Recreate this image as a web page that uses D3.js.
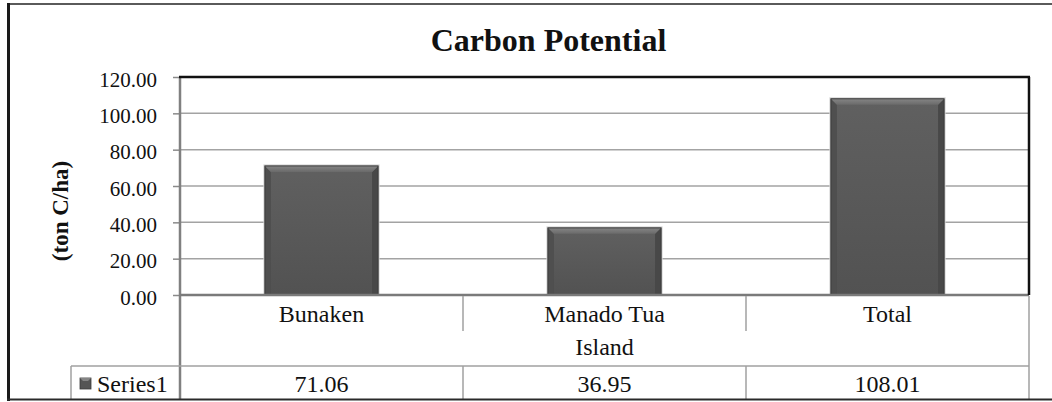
<!DOCTYPE html>
<html>
<head>
<meta charset="utf-8">
<script src="https://cdn.jsdelivr.net/npm/d3@7"></script>
<style>
  html, body { margin: 0; padding: 0; background: #fff; }
  svg { display: block; }
  text { font-family: "Liberation Serif", "Times New Roman", serif; fill: #111; }
</style>
</head>
<body>
<svg id="chart" width="1052" height="402"></svg>
<script>
// ---- data ----
const chartTitle = "Carbon Potential";
const yAxisTitle = "(ton C/ha)";
const xAxisTitle = "Island";
const seriesName = "Series1";
const categories = ["Bunaken", "Manado Tua", "Total"];
const values = [71.06, 36.95, 108.01];
const yTicks = [0, 20, 40, 60, 80, 100, 120];
const valueLabels = ["71.06", "36.95", "108.01"];

// ---- layout ----
const W = 1052, H = 402;
const plot = { left: 180, right: 1029, top: 77, bottom: 295 };
const catRowBottom = 331, titleRowBottom = 366, tableBottom = 400, legendLeft = 71;

const svg = d3.select("#chart");

const defs = svg.append("defs");
const g1 = defs.append("linearGradient").attr("id", "barBody").attr("x1", 0).attr("y1", 0).attr("x2", 0).attr("y2", 1);
g1.append("stop").attr("offset", "0%").attr("stop-color", "#606060");
g1.append("stop").attr("offset", "100%").attr("stop-color", "#525252");
const g2 = defs.append("linearGradient").attr("id", "barTop").attr("x1", 0).attr("y1", 0).attr("x2", 0).attr("y2", 1);
g2.append("stop").attr("offset", "0%").attr("stop-color", "#858585");
g2.append("stop").attr("offset", "100%").attr("stop-color", "#6a6a6a");

const x = d3.scaleBand().domain(categories).range([plot.left, plot.right]);
const y = d3.scaleLinear().domain([0, 120]).range([plot.bottom, plot.top]);

// gridlines
svg.append("g").selectAll("line").data(yTicks.filter(t => t > 0 && t < 120)).join("line")
  .attr("x1", plot.left).attr("x2", plot.right)
  .attr("y1", d => y(d)).attr("y2", d => y(d))
  .attr("stroke", "#a3a3a3").attr("stroke-width", 1.5);

// y axis (ticks + labels)
const yAxis = d3.axisLeft(y).tickValues(yTicks).tickFormat(d3.format(".2f")).tickSize(7).tickPadding(16);
const ya = svg.append("g").attr("transform", `translate(${plot.left},0)`).call(yAxis);
ya.select(".domain").remove();
ya.selectAll(".tick line").attr("stroke", "#8a8a8a").attr("stroke-width", 1.5);
ya.selectAll(".tick text").attr("font-size", 21).attr("fill", "#111").attr("dy", "0.43em");

// bars with bevel
const bw = x.bandwidth() * 0.4;
const bev = 6;
const bars = svg.append("g").selectAll("g").data(categories.map((c, i) => ({ c, v: values[i] }))).join("g");
bars.each(function (d) {
  const gsel = d3.select(this);
  const x0 = x(d.c) + (x.bandwidth() - bw) / 2, x1 = x0 + bw;
  const y0 = y(d.v), yb = y(0);
  // faint shadow
  gsel.append("rect").attr("x", x0 - 1.5).attr("y", y0 - 1.5).attr("width", bw + 3).attr("height", yb - y0 + 1.5)
    .attr("fill", "#d4d4d4");
  gsel.append("rect").attr("x", x0).attr("y", y0).attr("width", bw).attr("height", yb - y0)
    .attr("fill", "url(#barBody)");
  // left bevel
  gsel.append("polygon").attr("points", [[x0, y0], [x0 + bev, y0 + bev], [x0 + bev, yb], [x0, yb]].join(" "))
    .attr("fill", "#4f4f4f");
  // right bevel
  gsel.append("polygon").attr("points", [[x1, y0], [x1 - bev, y0 + bev], [x1 - bev, yb], [x1, yb]].join(" "))
    .attr("fill", "#484848");
  // top bevel
  gsel.append("polygon").attr("points", [[x0, y0], [x1, y0], [x1 - bev, y0 + bev], [x0 + bev, y0 + bev]].join(" "))
    .attr("fill", "url(#barTop)");
  // outline
  gsel.append("rect").attr("x", x0).attr("y", y0).attr("width", bw).attr("height", yb - y0)
    .attr("fill", "none").attr("stroke", "#3a3a3a").attr("stroke-width", 1);
});

// plot area border
svg.append("line").attr("x1", plot.left).attr("x2", plot.left).attr("y1", plot.top).attr("y2", tableBottom)
  .attr("stroke", "#808080").attr("stroke-width", 2.5);
svg.append("line").attr("x1", plot.left).attr("x2", plot.right).attr("y1", plot.bottom).attr("y2", plot.bottom)
  .attr("stroke", "#7a7a7a").attr("stroke-width", 2.5);
svg.append("line").attr("x1", plot.left - 1).attr("x2", plot.right + 1).attr("y1", plot.top).attr("y2", plot.top)
  .attr("stroke", "#111").attr("stroke-width", 2.5);
svg.append("line").attr("x1", plot.right).attr("x2", plot.right).attr("y1", plot.top).attr("y2", plot.bottom)
  .attr("stroke", "#111").attr("stroke-width", 2.5);

// data table lines
const tbl = svg.append("g").attr("stroke", "#a0a0a0").attr("stroke-width", 1.5);
tbl.append("line").attr("x1", plot.right).attr("x2", plot.right).attr("y1", plot.bottom + 1).attr("y2", tableBottom);
categories.slice(1).forEach(c => {
  tbl.append("line").attr("x1", x(c)).attr("x2", x(c)).attr("y1", plot.bottom + 1).attr("y2", catRowBottom);
  tbl.append("line").attr("x1", x(c)).attr("x2", x(c)).attr("y1", titleRowBottom).attr("y2", tableBottom);
});
tbl.append("line").attr("x1", legendLeft).attr("x2", plot.right).attr("y1", titleRowBottom).attr("y2", titleRowBottom);
tbl.append("line").attr("x1", legendLeft).attr("x2", legendLeft).attr("y1", titleRowBottom).attr("y2", tableBottom);

// category labels
svg.append("g").selectAll("text").data(categories).join("text")
  .attr("x", d => x(d) + x.bandwidth() / 2).attr("y", 322)
  .attr("text-anchor", "middle").attr("font-size", 24).text(d => d);

// x axis title
svg.append("text").attr("x", (plot.left + plot.right) / 2).attr("y", 355)
  .attr("text-anchor", "middle").attr("font-size", 24).text(xAxisTitle);

// value row
svg.append("g").selectAll("text").data(categories).join("text")
  .attr("x", d => x(d) + x.bandwidth() / 2).attr("y", 392)
  .attr("text-anchor", "middle").attr("font-size", 24).text((d, i) => valueLabels[i]);

// legend key
const kx = 80, ky = 378, ks = 11;
svg.append("rect").attr("x", kx).attr("y", ky).attr("width", ks).attr("height", ks).attr("fill", "#555")
  .attr("stroke", "#3a3a3a").attr("stroke-width", 0.8);
svg.append("polygon").attr("points", [[kx, ky], [kx + ks, ky], [kx + ks - 3, ky + 3], [kx + 3, ky + 3]].join(" ")).attr("fill", "#858585");
svg.append("text").attr("x", 97).attr("y", 392).attr("font-size", 24).text(seriesName);

// title
svg.append("text").attr("x", 548.5).attr("y", 51).attr("text-anchor", "middle")
  .attr("font-size", 32).attr("font-weight", "bold").text(chartTitle);

// y axis title
svg.append("text").attr("transform", "translate(68,211) rotate(-90)").attr("text-anchor", "middle")
  .attr("font-size", 23).attr("font-weight", "bold").attr("xml:space", "preserve").text(yAxisTitle);

// outer frame
svg.append("line").attr("x1", 8).attr("x2", W).attr("y1", 4).attr("y2", 4).attr("stroke", "#5a5a5a").attr("stroke-width", 2);
svg.append("line").attr("x1", 8.5).attr("x2", 8.5).attr("y1", 3).attr("y2", 401).attr("stroke", "#1a1a1a").attr("stroke-width", 3);
svg.append("line").attr("x1", 7).attr("x2", W).attr("y1", 399.5).attr("y2", 399.5).attr("stroke", "#2a2a2a").attr("stroke-width", 2);
</script>
</body>
</html>
